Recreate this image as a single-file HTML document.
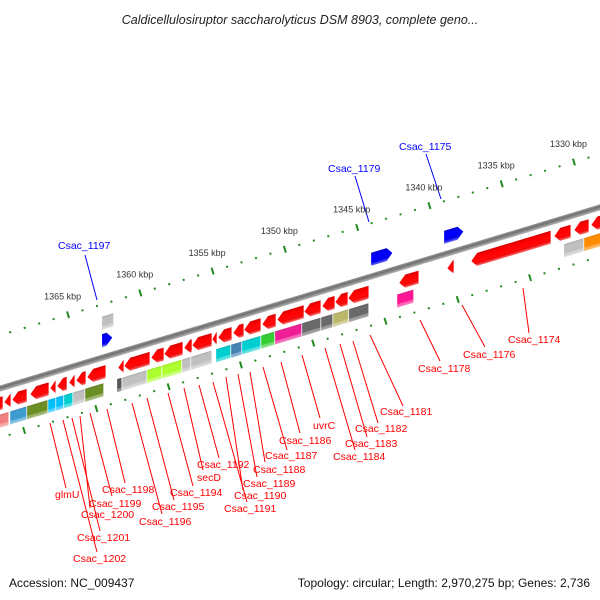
<!DOCTYPE html>
<html><head><meta charset="utf-8"><style>
html,body{margin:0;padding:0;background:#fff}
svg{display:block;font-family:"Liberation Sans",sans-serif}
</style></head><body>
<svg id="chart" width="600" height="600" viewBox="0 0 600 600" xmlns="http://www.w3.org/2000/svg">
<defs>
<linearGradient id="gRed" x1="0" y1="0" x2="0" y2="1"><stop offset="0" stop-color="#d80000"/><stop offset="0.3" stop-color="#ff0000"/><stop offset="0.72" stop-color="#ff0a0a"/><stop offset="0.75" stop-color="#e80000"/><stop offset="1" stop-color="#ff6a6a"/></linearGradient>
<linearGradient id="gBlue" x1="0" y1="0" x2="0" y2="1"><stop offset="0" stop-color="#0000d0"/><stop offset="0.3" stop-color="#0000ff"/><stop offset="0.75" stop-color="#0000e8"/><stop offset="1" stop-color="#6a6aff"/></linearGradient>
<linearGradient id="gShade" x1="0" y1="0" x2="0" y2="1"><stop offset="0" stop-color="#000" stop-opacity="0.1"/><stop offset="0.3" stop-color="#fff" stop-opacity="0"/><stop offset="0.72" stop-color="#fff" stop-opacity="0"/><stop offset="0.75" stop-color="#fff" stop-opacity="0.25"/><stop offset="1" stop-color="#fff" stop-opacity="0.45"/></linearGradient>
<linearGradient id="gBack" x1="0" y1="0" x2="0" y2="1"><stop offset="0" stop-color="#9a9a9a"/><stop offset="0.4" stop-color="#6e6e6e"/><stop offset="1" stop-color="#b8b8b8"/></linearGradient>
</defs>
<text x="300" y="24" text-anchor="middle" font-size="12.5" font-style="italic" fill="#222">Caldicellulosiruptor saccharolyticus DSM 8903, complete geno...</text>
<g id="frame" transform="translate(300,298) rotate(-16.8)"></g>
<g id="below" transform="matrix(0.957,-0.289,0,1,303,298)"></g>
<g id="above" transform="matrix(0.957,-0.289,0,1,296,298)"></g>
<g id="annot"></g>
<text x="9" y="587" font-size="12" fill="#111">Accession: NC_009437</text>
<text x="590" y="587" text-anchor="end" font-size="12" fill="#111">Topology: circular; Length: 2,970,275 bp; Genes: 2,736</text>
</svg>
<script>
// data (kbp)
const tickStart = 1326;
const tickEnd = 1373;
const tickLabels = [1365, 1360, 1355, 1350, 1345, 1340, 1335, 1330];
const revGeneFrom = [1371.7,1370.66,1370.11,1368.86,1367.48,1367.0,1366.17,1365.68,1364.92,1362.78,1362.36,1360.49,1359.59,1358.21,1357.65,1356.27,1355.86,1354.82,1354.06,1352.81,1351.77,1349.9,1348.66,1347.76,1346.86,1343.33,1340.01,1338.35,1332.6,1331.22,1330.04];
const revGeneTo   = [1370.73,1370.18,1369.07,1367.55,1367.07,1366.3,1365.75,1364.99,1363.61,1362.36,1360.56,1359.59,1358.28,1357.65,1356.27,1355.92,1354.89,1354.06,1352.88,1351.84,1349.9,1348.73,1347.76,1346.86,1345.41,1341.95,1339.52,1332.81,1331.43,1330.18,1328.8];
const fwdGeneFrom = [1363.42,1344.8,1339.75];
const fwdGeneTo   = [1362.66,1343.28,1338.37];
const cogFrom = [1371.9,1371.02,1370.26,1369.09,1367.63,1367.08,1366.53,1365.9,1365.07,1362.86,1362.51,1360.78,1359.74,1358.36,1357.74,1356.01,1354.97,1354.21,1352.89,1351.93,1350.06,1348.74,1347.91,1346.81,1343.48,1331.93,1330.54];
const cogTo   = [1371.02,1370.33,1369.09,1367.63,1367.08,1366.53,1365.9,1365.07,1363.76,1362.51,1360.78,1359.74,1358.36,1357.74,1356.28,1354.97,1354.21,1352.89,1351.93,1350.06,1348.74,1347.91,1346.81,1345.42,1342.31,1330.54,1329.3];
const cogColor = ["#ff1493","#f08080","#3d9bd0","#6b8e23","#00bfff","#00bfff","#00ced1","#c0c0c0","#6b8e23","#555555","#c0c0c0","#adff2f","#adff2f","#c0c0c0","#c0c0c0","#00ced1","#4682b4","#00ced1","#32cd32","#f01e96","#696969","#696969","#bdb76b","#696969","#ff1493","#c0c0c0","#ff8c00"];
const extraFrom = [1363.42];
const extraTo = [1362.59];
const redLabels = ["Csac_1174","Csac_1176","Csac_1178","Csac_1181","Csac_1182","Csac_1183","Csac_1184","uvrC","Csac_1186","Csac_1187","Csac_1188","Csac_1189","Csac_1190","Csac_1191","Csac_1192","secD","Csac_1194","Csac_1195","Csac_1196","Csac_1198","Csac_1199","Csac_1200","Csac_1201","Csac_1202","glmU"];
const redLabelX = [508,463,418,380,355,345,333,313,279,265,253,243,234,224,197,197,170,152,139,102,89,81,77,73,55];
const redLabelY = [343,358,372,415,432,447,460,429,444,459,473,487,499,512,468,481,496,510,525,493,507,518,541,562,498];
const redLineTop = [[523,288],[462,305],[420,320],[370,335],[353,341],[340,344],[325,348],[302,355],[281,362],[263,367],[250,372],[238,374],[226,377],[213,382],[199,385],[184,388],[168,393],[147,398],[132,403],[107,409],[90,413],[80,416],[72,418],[63,420],[50,423]];
const redLineBot = [[529,333],[485,347],[440,361],[403,406],[378,423],[367,437],[355,450],[320,418],[300,433],[287,450],[265,462],[257,477],[243,490],[247,502],[219,458],[203,470],[193,486],[174,500],[162,514],[125,483],[112,496],[90,508],[100,531],[97,552],[66,488]];
const blueLabels = ["Csac_1197","Csac_1179","Csac_1175"];
const blueLabelX = [58,328,399];
const blueLabelY = [249,172,150];
const blueLineTop = [[85,255],[355,176],[426,154]];
const blueLineBot = [[97,300],[369,222],[441,199]];

const NS = "http://www.w3.org/2000/svg";
const frame = document.getElementById('frame');
const below = document.getElementById('below');
const above = document.getElementById('above');
const annot = document.getElementById('annot');
const svg = document.getElementById('chart');
const ANG = 16.8 * Math.PI / 180;
function u(k){ return -226.9 + (1365 - k) * 15.1; }
function toGlobal(uu, vv){ return [300 + uu*Math.cos(ANG) + vv*Math.sin(ANG), 298 - uu*Math.sin(ANG) + vv*Math.cos(ANG)]; }
function mk(tag, attrs, parent){ const e = document.createElementNS(NS, tag); for (const k in attrs) e.setAttribute(k, attrs[k]); parent.appendChild(e); return e; }

// backbone
const bb = mk('rect', {x:-700, y:-3, width:1400, height:6, fill:'url(#gBack)'}, frame);



// ticks
function ring(v, name){
  for (let k = tickStart; k <= tickEnd; k++){
    const x = u(k);
    let t;
    if (k % 5 === 0){
      t = mk('rect', {x:x-1, y:v-3.5, width:2, height:7, fill:'#228b22'}, frame);
      
    } else {
      t = mk('rect', {x:x-1, y:v-1, width:2, height:2, fill:'#228b22'}, frame);
      
    }
    
  }
}
ring(-51, 'outer');
ring(47, 'inner');
tickLabels.forEach(k => {
  const p = toGlobal(u(k), -70);
  const t = mk('text', {x:p[0].toFixed(1), y:(p[1]+3).toFixed(1), 'text-anchor':'middle', 'font-size':'9', fill:'#333'}, svg);
  t.textContent = k + ' kbp';
  
  
});

// arrows
function arrow(parent, k1, k2, vTop, vBot, dir, fill){
  const a = u(k1) + 0.4, b = u(k2) - 0.4;
  const L = b - a, h = Math.min(6, L), vc = (vTop + vBot)/2;
  let pts;
  if (dir < 0) pts = [[a,vc],[a+h,vTop],[b,vTop],[b,vBot],[a+h,vBot]];
  else pts = [[b,vc],[b-h,vTop],[a,vTop],[a,vBot],[b-h,vBot]];
  return mk('polygon', {points: pts.map(p => p[0].toFixed(2)+','+p[1].toFixed(2)).join(' '), fill: fill}, parent);
}
revGeneFrom.forEach((f, i) => {
  const p = arrow(below, f, revGeneTo[i], 7.5, 20.5, -1, 'url(#gRed)');
  
  
});
fwdGeneFrom.forEach((f, i) => {
  const p = arrow(above, f, fwdGeneTo[i], -22.5, -9.5, 1, 'url(#gBlue)');
  
  
});
function box(parent, k1, k2, vTop, vBot, color, name){
  const a = u(k1) + 0.4, b = u(k2) - 0.4;
  const r = mk('rect', {x:a.toFixed(2), y:vTop, width:(b-a).toFixed(2), height:vBot-vTop, fill:color}, parent);
  
  
  const s = mk('rect', {x:a.toFixed(2), y:vTop, width:(b-a).toFixed(2), height:vBot-vTop, fill:'url(#gShade)'}, parent);
  
  
}
cogFrom.forEach((f, i) => box(below, f, cogTo[i], 25, 38, cogColor[i], 'cog-box'));
extraFrom.forEach((f, i) => box(above, f, extraTo[i], -40, -27, '#c0c0c0', 'feature-box'));

// labels
function leader(top, bot, color, name){
  const l = mk('line', {x1:top[0], y1:top[1], x2:bot[0], y2:bot[1], stroke:color, 'stroke-width':'1'}, annot);
  
  
}
redLabels.forEach((s, i) => {
  leader(redLineTop[i], redLineBot[i], '#ff0000', 'gene-leader-line');
  const t = mk('text', {x:redLabelX[i], y:redLabelY[i], 'font-size':'10.5', fill:'#ff0000'}, annot);
  t.textContent = s;
  
  
});
blueLabels.forEach((s, i) => {
  leader(blueLineTop[i], blueLineBot[i], '#0000ff', 'gene-leader-line');
  const t = mk('text', {x:blueLabelX[i], y:blueLabelY[i], 'font-size':'10.5', fill:'#0000ff'}, annot);
  t.textContent = s;
  
  
});
</script>
</body></html>
